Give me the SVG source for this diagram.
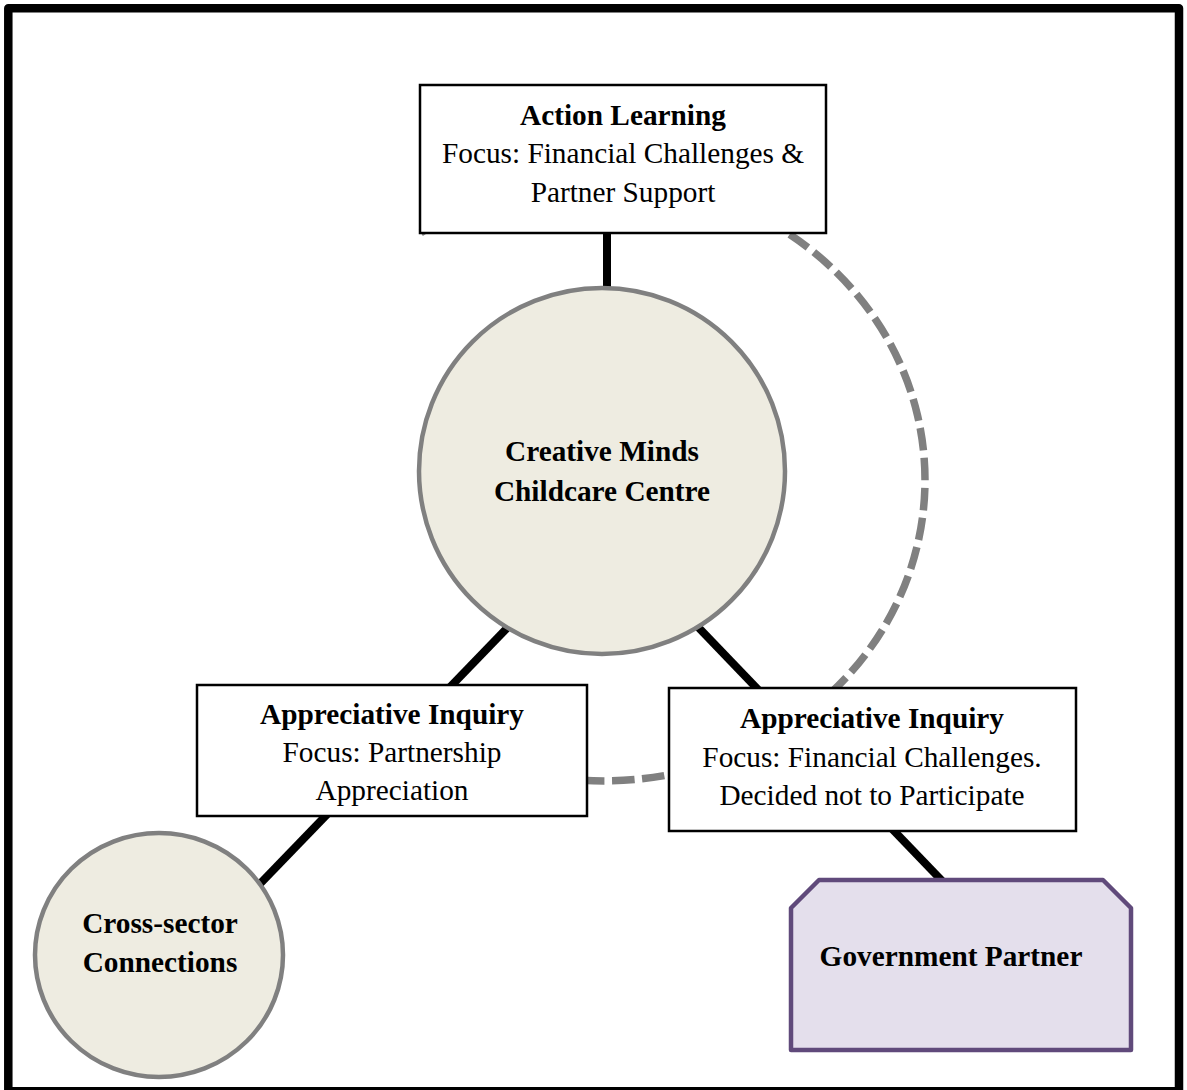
<svg xmlns="http://www.w3.org/2000/svg" width="1187" height="1090" viewBox="0 0 1187 1090">
<style>
.t{font-family:"Liberation Serif","Times New Roman",serif;font-size:29.3px;fill:#000;text-anchor:middle}
.b{font-weight:bold}
.box{fill:#fff;stroke:#000;stroke-width:2.5}
.circ{fill:#EEECE1;stroke:#808080;stroke-width:4.5}
.conn{stroke:#000;stroke-width:8;fill:none}
.dash{fill:none;stroke:#808080;stroke-width:7.5;stroke-dasharray:22.5 7.5}
</style>
<rect x="0" y="0" width="1187" height="1090" fill="#fff"/>
<rect id="frame" x="8.3" y="8.3" width="1170.7" height="1083" fill="none" stroke="#000" stroke-width="8.5" stroke-linejoin="round"/>
<g id="connectors">
<path class="dash" d="M 420.8 232.8 A 321 301 0 1 1 548.3 776.4"/>
<line class="conn" x1="607" y1="228" x2="607" y2="292"/>
<line class="conn" x1="510" y1="625" x2="255" y2="889"/>
<line class="conn" x1="698" y1="627" x2="947" y2="886"/>
</g>
<g id="action-learning">
<rect class="box" x="420" y="85" width="406" height="148"/>
<text class="t b" x="623" y="125">Action Learning</text>
<text class="t" x="623" y="163">Focus: Financial Challenges &amp;</text>
<text class="t" x="623" y="202">Partner Support</text>
</g>
<g id="creative-minds">
<circle class="circ" cx="602" cy="471" r="183"/>
<text class="t b" x="602" y="461">Creative Minds</text>
<text class="t b" x="602" y="501">Childcare Centre</text>
</g>
<g id="ai-partnership">
<rect class="box" x="197" y="685" width="390" height="131"/>
<text class="t b" x="392" y="724">Appreciative Inquiry</text>
<text class="t" x="392" y="762">Focus: Partnership</text>
<text class="t" x="392" y="800">Appreciation</text>
</g>
<g id="ai-financial">
<rect class="box" x="669" y="688" width="407" height="143"/>
<text class="t b" x="872" y="728">Appreciative Inquiry</text>
<text class="t" x="872" y="767">Focus: Financial Challenges.</text>
<text class="t" x="872" y="805">Decided not to Participate</text>
</g>
<g id="cross-sector">
<ellipse class="circ" cx="159" cy="955" rx="124" ry="122"/>
<text class="t b" x="160" y="933">Cross-sector</text>
<text class="t b" x="160" y="972">Connections</text>
</g>
<g id="government-partner">
<path d="M 791 908 L 819 880 L 1103 880 L 1131 908 L 1131 1050 L 791 1050 Z" fill="#E4DFEC" stroke="#604A7B" stroke-width="4.5" stroke-linejoin="round"/>
<text class="t b" x="951" y="966">Government Partner</text>
</g>
</svg>
